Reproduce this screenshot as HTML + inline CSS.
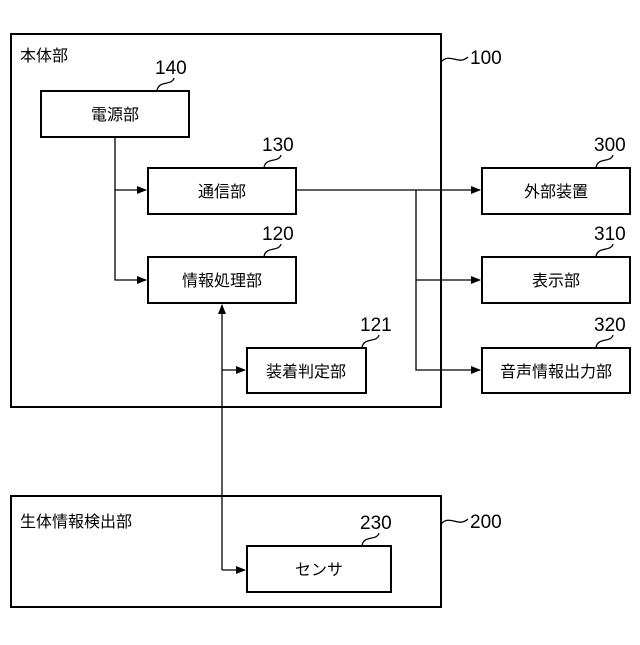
<!DOCTYPE html>
<html><head><meta charset="utf-8"><style>
body{margin:0;background:#fff}
text{font-family:"Liberation Sans","Noto Sans CJK JP",sans-serif;fill:#000}
</style></head><body>
<svg width="640" height="640" viewBox="0 0 640 640" xmlns="http://www.w3.org/2000/svg">
<defs><marker id="a" markerWidth="10" markerHeight="8" refX="9" refY="4" orient="auto" markerUnits="userSpaceOnUse"><path d="M0,0 L10,4 L0,8 Z" fill="#000"/></marker></defs>
<g fill="none" stroke="#000" stroke-width="2">
<rect x="11" y="34" width="430" height="373"/>
<rect x="41" y="91" width="148" height="46"/>
<rect x="148" y="168" width="148" height="46"/>
<rect x="148" y="257" width="148" height="46"/>
<rect x="247" y="348" width="119" height="45"/>
<rect x="482" y="168" width="148" height="46"/>
<rect x="482" y="257" width="148" height="46"/>
<rect x="482" y="348" width="148" height="45"/>
<rect x="11" y="496" width="430" height="111"/>
<rect x="247" y="546" width="144" height="46"/>
</g>
<g fill="none" stroke="#000" stroke-width="1.3">
<path d="M115,137 V280 H146" marker-end="url(#a)"/>
<path d="M115,190 H146" marker-end="url(#a)"/>
<path d="M296,190 H480" marker-end="url(#a)"/>
<path d="M416,190 V370 H480" marker-end="url(#a)"/>
<path d="M416,280 H480" marker-end="url(#a)"/>
<path d="M222,570 V305" marker-end="url(#a)"/>
<path d="M222,370 H245" marker-end="url(#a)"/>
<path d="M222,570 H245" marker-end="url(#a)"/>
<path d="M441,62 C450,52 458,66 468,57"/>
<path d="M441,524 C450,514 458,528 468,519"/>
<path d="M157,91 C158,80 172,86 174,78"/>
<path d="M264,168 C265,157 279,163 281,155"/>
<path d="M264,257 C265,246 279,252 281,244"/>
<path d="M362,348 C363,337 377,343 379,335"/>
<path d="M596,168 C597,157 611,163 613,155"/>
<path d="M596,257 C597,246 611,252 613,244"/>
<path d="M596,348 C597,337 611,343 613,335"/>
<path d="M362,546 C363,535 377,541 379,533"/>
</g>
<g font-size="16">
<text x="20" y="61">本体部</text>
<text x="20" y="527">生体情報検出部</text>
<text x="115" y="120" text-anchor="middle">電源部</text>
<text x="222" y="197" text-anchor="middle">通信部</text>
<text x="222" y="286" text-anchor="middle">情報処理部</text>
<text x="306" y="377" text-anchor="middle">装着判定部</text>
<text x="556" y="197" text-anchor="middle">外部装置</text>
<text x="556" y="286" text-anchor="middle">表示部</text>
<text x="556" y="377" text-anchor="middle">音声情報出力部</text>
<text x="319" y="575" text-anchor="middle">センサ</text>
</g>
<g font-size="19">
<text x="470" y="64">100</text>
<text x="470" y="528">200</text>
<text x="155" y="74">140</text>
<text x="262" y="151">130</text>
<text x="262" y="240">120</text>
<text x="360" y="331">121</text>
<text x="594" y="151">300</text>
<text x="594" y="240">310</text>
<text x="594" y="331">320</text>
<text x="360" y="529">230</text>
</g>
</svg>
</body></html>
